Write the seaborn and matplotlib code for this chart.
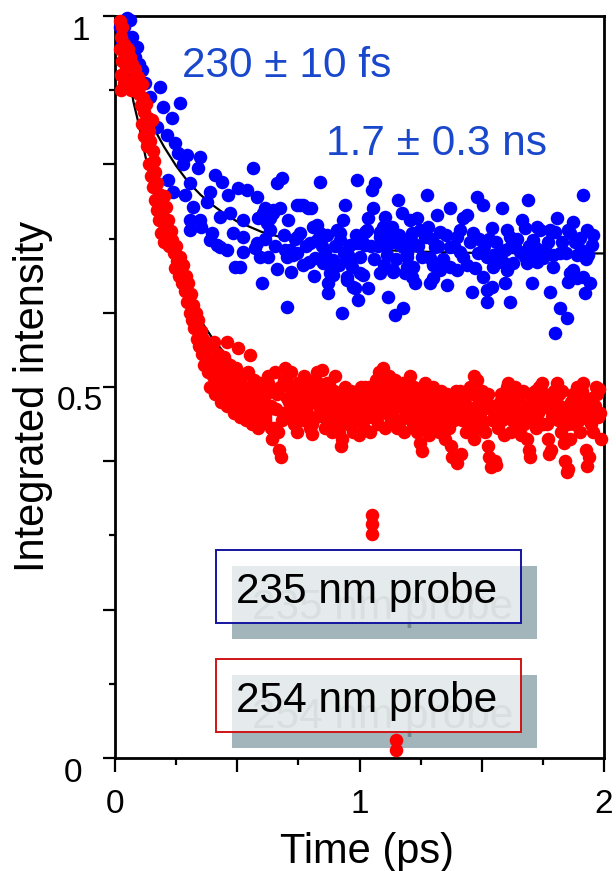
import matplotlib
matplotlib.use("Agg")
import matplotlib.pyplot as plt
import matplotlib.transforms as mtransforms
from matplotlib.patches import Rectangle
import seaborn as sns

# ---------------- data ----------------
blue_pts = [
    (0.022, 0.985), (0.030, 0.965), (0.037, 0.985), (0.049, 0.997), (0.061, 0.995), (0.070, 0.972),
    (0.080, 0.945), (0.090, 0.958), (0.100, 0.935), (0.110, 0.927), (0.123, 0.910), (0.143, 0.891),
    (0.184, 0.904), (0.196, 0.877), (0.172, 0.850), (0.233, 0.862), (0.266, 0.883), (0.213, 0.840),
    (0.245, 0.829), (0.258, 0.815), (0.294, 0.813), (0.348, 0.810), (0.340, 0.795), (0.278, 0.800),
    (0.217, 0.779), (0.307, 0.775), (0.409, 0.786), (0.438, 0.776), (0.564, 0.795), (0.237, 0.763),
    (0.286, 0.759), (0.319, 0.743), (0.376, 0.749), (0.389, 0.763), (0.462, 0.759), (0.503, 0.768),
    (0.540, 0.765), (0.581, 0.756), (0.307, 0.725), (0.348, 0.725), (0.352, 0.716), (0.429, 0.729),
    (0.470, 0.734), (0.524, 0.725), (0.605, 0.734), (0.307, 0.712), (0.389, 0.698), (0.397, 0.708),
    (0.417, 0.691), (0.430, 0.689), (0.458, 0.685), (0.483, 0.708), (0.524, 0.702), (0.524, 0.682),
    (0.490, 0.662), (0.510, 0.662), (0.573, 0.687), (0.581, 0.694), (0.600, 0.640), (0.622, 0.721),
    (0.646, 0.739), (0.663, 0.775), (0.683, 0.782), (0.626, 0.675), (0.593, 0.675), (0.663, 0.659),
    (0.703, 0.608), (0.695, 0.685), (0.716, 0.685), (0.728, 0.678), (0.744, 0.681), (0.769, 0.664),
    (0.744, 0.702), (0.757, 0.708), (0.810, 0.716), (0.838, 0.708), (0.892, 0.671), (0.879, 0.654),
    (0.871, 0.640), (0.871, 0.627), (0.920, 0.708), (0.949, 0.644), (0.973, 0.635), (0.928, 0.600),
    (0.940, 0.745), (0.932, 0.725), (0.757, 0.745), (0.790, 0.741), (0.675, 0.741), (0.646, 0.734),
    (0.708, 0.725), (0.585, 0.728), (0.613, 0.741), (0.634, 0.728), (0.634, 0.712), (0.744, 0.745),
    (0.769, 0.745), (0.800, 0.741), (0.826, 0.718), (0.838, 0.776), (0.867, 0.705), (0.908, 0.712),
    (0.798, 0.694), (0.826, 0.698), (0.851, 0.704), (0.920, 0.698), (0.961, 0.691), (0.990, 0.694),
    (1.022, 0.691), (1.014, 0.694), (1.112, 0.691), (1.137, 0.695), (1.166, 0.691), (1.178, 0.689),
    (1.219, 0.694), (0.703, 0.675), (0.818, 0.674), (0.851, 0.667), (0.888, 0.668), (0.953, 0.678),
    (0.949, 0.675), (0.961, 0.668), (1.002, 0.675), (1.112, 0.678), (1.194, 0.675), (0.969, 0.662),
    (1.014, 0.651), (1.002, 0.654), (1.084, 0.654), (1.137, 0.655), (1.137, 0.658), (1.186, 0.654),
    (1.194, 0.662), (1.219, 0.662), (0.892, 0.651), (0.949, 0.648), (0.982, 0.633), (1.035, 0.633),
    (0.994, 0.617), (1.117, 0.621), (1.145, 0.597), (1.178, 0.606), (0.990, 0.779), (1.063, 0.775),
    (1.050, 0.766), (1.157, 0.752), (1.055, 0.741), (1.174, 0.734), (1.035, 0.728), (1.104, 0.729),
    (1.133, 0.716), (1.096, 0.716), (1.125, 0.714), (1.235, 0.728), (1.030, 0.712), (1.022, 0.709),
    (1.084, 0.709), (1.084, 0.702), (1.207, 0.725), (1.215, 0.708), (1.247, 0.712), (1.268, 0.702),
    (1.276, 0.759), (1.480, 0.756), (1.505, 0.745), (1.689, 0.752), (1.914, 0.759), (1.317, 0.732),
    (1.370, 0.741), (1.423, 0.728), (1.440, 0.732), (1.583, 0.741), (1.665, 0.725), (1.677, 0.714),
    (1.808, 0.728), (1.873, 0.722), (1.329, 0.709), (1.464, 0.708), (1.542, 0.714), (1.603, 0.712),
    (1.616, 0.702), (1.726, 0.716), (1.738, 0.712), (1.779, 0.712), (1.800, 0.709), (1.853, 0.712),
    (1.861, 0.708), (1.930, 0.712), (1.399, 0.702), (1.710, 0.698), (1.902, 0.701), (1.951, 0.691),
    (1.194, 0.681), (1.309, 0.689), (1.370, 0.689), (1.411, 0.682), (1.423, 0.675), (1.485, 0.681),
    (1.521, 0.675), (1.546, 0.678), (1.575, 0.681), (1.595, 0.685), (1.636, 0.689), (1.656, 0.682),
    (1.677, 0.675), (1.710, 0.674), (1.738, 0.681), (1.759, 0.685), (1.791, 0.678), (1.820, 0.681),
    (1.890, 0.678), (1.935, 0.678), (1.288, 0.674), (1.300, 0.664), (1.329, 0.658), (1.370, 0.662),
    (1.399, 0.658), (1.440, 0.664), (1.472, 0.660), (1.546, 0.662), (1.566, 0.668), (1.603, 0.658),
    (1.628, 0.667), (1.685, 0.667), (1.726, 0.668), (1.750, 0.674), (1.861, 0.654), (1.873, 0.658),
    (1.914, 0.648), (1.215, 0.648), (1.227, 0.640), (1.288, 0.640), (1.300, 0.647), (1.358, 0.637),
    (1.460, 0.628), (1.505, 0.648), (1.521, 0.631), (1.542, 0.635), (1.595, 0.640), (1.706, 0.640),
    (1.779, 0.628), (1.853, 0.642), (1.890, 0.647), (1.943, 0.640), (1.521, 0.615), (1.616, 0.615),
    (1.922, 0.627), (1.820, 0.606), (1.849, 0.593), (1.800, 0.573),
    (0.615, 0.700), (0.655, 0.690), (0.690, 0.705), (0.720, 0.655), (0.735, 0.700), (0.780, 0.690),
    (0.795, 0.668), (0.815, 0.650), (0.845, 0.690), (0.860, 0.680), (0.900, 0.690), (0.915, 0.665),
    (0.935, 0.680), (0.985, 0.705), (1.005, 0.700), (1.045, 0.690), (1.060, 0.672), (1.075, 0.690),
    (1.100, 0.665), (1.120, 0.700), (1.150, 0.672), (1.160, 0.705), (1.200, 0.700), (1.240, 0.690),
    (1.255, 0.675), (1.280, 0.715), (1.295, 0.700), (1.320, 0.690), (1.340, 0.672), (1.355, 0.705),
    (1.385, 0.690), (1.410, 0.712), (1.450, 0.695), (1.490, 0.700), (1.510, 0.690), (1.530, 0.700),
    (1.560, 0.695), (1.585, 0.668), (1.620, 0.690), (1.645, 0.700), (1.695, 0.690), (1.720, 0.688),
    (1.770, 0.695), (1.790, 0.662), (1.830, 0.695), (1.845, 0.680), (1.880, 0.695), (1.905, 0.685),
    (1.925, 0.672), (1.955, 0.705),
]

red_early_pts = [
    (0.022, 0.993), (0.030, 0.985), (0.024, 0.972), (0.035, 0.962), (0.022, 0.955), (0.040, 0.950),
    (0.028, 0.940), (0.045, 0.930), (0.024, 0.920), (0.035, 0.910), (0.025, 0.900), (0.050, 0.905),
    (0.055, 0.955), (0.061, 0.945), (0.070, 0.935), (0.074, 0.915), (0.082, 0.928), (0.065, 0.900),
    (0.088, 0.905), (0.095, 0.918), (0.100, 0.895), (0.110, 0.908), (0.105, 0.880), (0.115, 0.890),
    (0.120, 0.870), (0.128, 0.882), (0.110, 0.855), (0.135, 0.862), (0.118, 0.838), (0.140, 0.845),
    (0.150, 0.860), (0.130, 0.825), (0.145, 0.832), (0.155, 0.818), (0.140, 0.800), (0.160, 0.805),
    (0.148, 0.785), (0.165, 0.790), (0.172, 0.775), (0.155, 0.770), (0.178, 0.760), (0.162, 0.752),
    (0.185, 0.748), (0.200, 0.758), (0.170, 0.738), (0.192, 0.735), (0.210, 0.742), (0.180, 0.725),
    (0.200, 0.720), (0.218, 0.725), (0.190, 0.708), (0.210, 0.705), (0.228, 0.710), (0.200, 0.695),
    (0.222, 0.690), (0.235, 0.698),
    (0.240, 0.680), (0.245, 0.660), (0.250, 0.690), (0.255, 0.670), (0.260, 0.650), (0.265, 0.675),
    (0.270, 0.655), (0.275, 0.640), (0.280, 0.665), (0.285, 0.630), (0.290, 0.650), (0.295, 0.615),
    (0.300, 0.640), (0.305, 0.600), (0.310, 0.625), (0.315, 0.590), (0.320, 0.610), (0.325, 0.580),
    (0.330, 0.600), (0.335, 0.565), (0.340, 0.590), (0.345, 0.555), (0.350, 0.575), (0.355, 0.545),
    (0.360, 0.565), (0.365, 0.530), (0.370, 0.560), (0.375, 0.540), (0.380, 0.520), (0.385, 0.555),
    (0.390, 0.500), (0.395, 0.535), (0.400, 0.515), (0.405, 0.560), (0.410, 0.490), (0.415, 0.525),
    (0.420, 0.545), (0.425, 0.505), (0.430, 0.530), (0.435, 0.480), (0.440, 0.515), (0.445, 0.540),
    (0.450, 0.495), (0.455, 0.520), (0.458, 0.560), (0.460, 0.475), (0.465, 0.505), (0.470, 0.530),
    (0.475, 0.485), (0.480, 0.510), (0.485, 0.465), (0.490, 0.495), (0.495, 0.525), (0.500, 0.480),
    (0.503, 0.552), (0.505, 0.505), (0.510, 0.460), (0.515, 0.490), (0.520, 0.515), (0.525, 0.470),
    (0.530, 0.500), (0.535, 0.455), (0.540, 0.485), (0.545, 0.520), (0.550, 0.465), (0.552, 0.543),
    (0.555, 0.495), (0.560, 0.450), (0.565, 0.480), (0.570, 0.510), (0.575, 0.460), (0.580, 0.490),
    (0.585, 0.445), (0.590, 0.475), (0.595, 0.505),
]

red_plateau_t = [
    0.600, 0.606, 0.612, 0.618, 0.624, 0.630, 0.636, 0.642, 0.648, 0.654,
    0.660, 0.666, 0.672, 0.678, 0.684, 0.690, 0.696, 0.702, 0.708, 0.714,
    0.720, 0.726, 0.732, 0.738, 0.744, 0.750, 0.756, 0.762, 0.768, 0.774,
    0.780, 0.786, 0.792, 0.798, 0.804, 0.810, 0.816, 0.822, 0.828, 0.834,
    0.840, 0.846, 0.852, 0.858, 0.864, 0.870, 0.876, 0.882, 0.888, 0.894,
    0.900, 0.906, 0.912, 0.918, 0.924, 0.930, 0.936, 0.942, 0.948, 0.954,
    0.960, 0.966, 0.972, 0.978, 0.984, 0.990, 0.996, 1.002, 1.008, 1.014,
    1.020, 1.026, 1.032, 1.038, 1.044, 1.050, 1.056, 1.062, 1.068, 1.074,
    1.080, 1.086, 1.092, 1.098, 1.104, 1.110, 1.116, 1.122, 1.128, 1.134,
    1.140, 1.146, 1.152, 1.158, 1.164, 1.170, 1.176, 1.182, 1.188, 1.194,
    1.200, 1.206, 1.212, 1.218, 1.224, 1.230, 1.236, 1.242, 1.248, 1.254,
    1.260, 1.266, 1.272, 1.278, 1.284, 1.290, 1.296, 1.302, 1.308, 1.314,
    1.320, 1.326, 1.332, 1.338, 1.344, 1.350, 1.356, 1.362, 1.368, 1.374,
    1.380, 1.386, 1.392, 1.398, 1.404, 1.410, 1.416, 1.422, 1.428, 1.434,
    1.440, 1.446, 1.452, 1.458, 1.464, 1.470, 1.476, 1.482, 1.488, 1.494,
    1.500, 1.506, 1.512, 1.518, 1.524, 1.530, 1.536, 1.542, 1.548, 1.554,
    1.560, 1.566, 1.572, 1.578, 1.584, 1.590, 1.596, 1.602, 1.608, 1.614,
    1.620, 1.626, 1.632, 1.638, 1.644, 1.650, 1.656, 1.662, 1.668, 1.674,
    1.680, 1.686, 1.692, 1.698, 1.704, 1.710, 1.716, 1.722, 1.728, 1.734,
    1.740, 1.746, 1.752, 1.758, 1.764, 1.770, 1.776, 1.782, 1.788, 1.794,
    1.800, 1.806, 1.812, 1.818, 1.824, 1.830, 1.836, 1.842, 1.848, 1.854,
    1.860, 1.866, 1.872, 1.878, 1.884, 1.890, 1.896, 1.902, 1.908, 1.914,
    1.920, 1.926, 1.932, 1.938, 1.944, 1.950, 1.956, 1.962, 1.968, 1.974,
    1.980, 1.986,
]
red_plateau_y = [
    0.480, 0.505, 0.455, 0.490, 0.515, 0.470, 0.445, 0.430, 0.495, 0.520,
    0.470, 0.440, 0.415, 0.405, 0.455, 0.510, 0.525, 0.485, 0.460, 0.500,
    0.520, 0.475, 0.450, 0.495, 0.440, 0.505, 0.470, 0.485, 0.455, 0.515,
    0.490, 0.465, 0.500, 0.445, 0.437, 0.480, 0.510, 0.460, 0.520, 0.475,
    0.500, 0.523, 0.470, 0.445, 0.490, 0.455, 0.505, 0.480, 0.440, 0.495,
    0.515, 0.470, 0.485, 0.440, 0.420, 0.430, 0.460, 0.500, 0.480, 0.450,
    0.465, 0.495, 0.440, 0.475, 0.455, 0.490, 0.435, 0.480, 0.500, 0.460,
    0.445, 0.485, 0.470, 0.500, 0.440, 0.460, 0.495, 0.475, 0.510, 0.450,
    0.520, 0.490, 0.465, 0.525, 0.445, 0.505, 0.480, 0.515, 0.455, 0.500,
    0.470, 0.510, 0.445, 0.485, 0.495, 0.455, 0.505, 0.440, 0.475, 0.490,
    0.460, 0.515, 0.480, 0.450, 0.500, 0.470, 0.440, 0.490, 0.425, 0.414,
    0.445, 0.505, 0.470, 0.490, 0.435, 0.480, 0.460, 0.500, 0.450, 0.485,
    0.470, 0.440, 0.495, 0.455, 0.480, 0.430, 0.490, 0.465, 0.445, 0.420,
    0.405, 0.455, 0.480, 0.398, 0.470, 0.495, 0.410, 0.460, 0.485, 0.440,
    0.475, 0.450, 0.500, 0.465, 0.490, 0.515, 0.445, 0.510, 0.480, 0.460,
    0.495, 0.470, 0.440, 0.485, 0.420, 0.405, 0.392, 0.455, 0.475, 0.400,
    0.395, 0.445, 0.470, 0.490, 0.455, 0.435, 0.480, 0.500, 0.505, 0.460,
    0.440, 0.485, 0.470, 0.500, 0.450, 0.490, 0.465, 0.435, 0.495, 0.475,
    0.455, 0.430, 0.415, 0.405, 0.460, 0.485, 0.495, 0.445, 0.475, 0.500,
    0.470, 0.505, 0.450, 0.490, 0.480, 0.430, 0.410, 0.415, 0.460, 0.495,
    0.485, 0.505, 0.455, 0.475, 0.440, 0.495, 0.425, 0.400, 0.385, 0.390,
    0.430, 0.470, 0.490, 0.450, 0.480, 0.500, 0.460, 0.440, 0.495, 0.505,
    0.470, 0.415, 0.394, 0.405, 0.455, 0.485, 0.440, 0.475, 0.500, 0.460,
    0.497, 0.430,
]

# interleaved plateau samples (mid-band)
red_mid_t = [
    0.603, 0.615, 0.627, 0.639, 0.651, 0.663, 0.675, 0.687, 0.699, 0.711,
    0.723, 0.735, 0.747, 0.759, 0.771, 0.783, 0.795, 0.807, 0.819, 0.831,
    0.843, 0.855, 0.867, 0.879, 0.891, 0.903, 0.915, 0.927, 0.939, 0.951,
    0.963, 0.975, 0.987, 0.999, 1.011, 1.023, 1.035, 1.047, 1.059, 1.071,
    1.083, 1.095, 1.107, 1.119, 1.131, 1.143, 1.155, 1.167, 1.179, 1.191,
    1.203, 1.215, 1.227, 1.239, 1.251, 1.263, 1.275, 1.287, 1.299, 1.311,
    1.323, 1.335, 1.347, 1.359, 1.371, 1.383, 1.395, 1.407, 1.419, 1.431,
    1.443, 1.455, 1.467, 1.479, 1.491, 1.503, 1.515, 1.527, 1.539, 1.551,
    1.563, 1.575, 1.587, 1.599, 1.611, 1.623, 1.635, 1.647, 1.659, 1.671,
    1.683, 1.695, 1.707, 1.719, 1.731, 1.743, 1.755, 1.767, 1.779, 1.791,
    1.803, 1.815, 1.827, 1.839, 1.851, 1.863, 1.875, 1.887, 1.899, 1.911,
    1.923, 1.935, 1.947, 1.959, 1.971, 1.983,
]
red_mid_y = [
    0.495, 0.460, 0.505, 0.475, 0.445, 0.490, 0.500, 0.465, 0.510, 0.480,
    0.465, 0.500, 0.485, 0.455, 0.505, 0.470, 0.495, 0.450, 0.490, 0.505,
    0.480, 0.460, 0.505, 0.470, 0.495, 0.455, 0.450, 0.485, 0.470, 0.490,
    0.475, 0.455, 0.490, 0.465, 0.480, 0.500, 0.460, 0.495, 0.470, 0.485,
    0.505, 0.470, 0.490, 0.510, 0.460, 0.495, 0.475, 0.480, 0.500, 0.465,
    0.490, 0.470, 0.460, 0.485, 0.455, 0.495, 0.475, 0.450, 0.480, 0.465,
    0.460, 0.480, 0.445, 0.470, 0.485, 0.465, 0.495, 0.475, 0.455, 0.470,
    0.490, 0.460, 0.430, 0.475, 0.465, 0.450, 0.480, 0.490, 0.470, 0.455,
    0.465, 0.480, 0.460, 0.475, 0.490, 0.455, 0.470, 0.485, 0.465, 0.450,
    0.470, 0.490, 0.455, 0.475, 0.465, 0.485, 0.480, 0.450, 0.470, 0.460,
    0.475, 0.490, 0.460, 0.470, 0.450, 0.480, 0.465, 0.485, 0.455, 0.470,
    0.460, 0.480, 0.450, 0.470, 0.490, 0.465,
]

red_outlier_pts = [(1.051, 0.327), (1.051, 0.315), (1.051, 0.302), (1.149, 0.024), (1.149, 0.011)]

# fitted curves as they appear on the reference
fit_t = [0.0, 0.025, 0.05, 0.075, 0.1, 0.125, 0.15, 0.175, 0.2, 0.25, 0.3, 0.35, 0.4,
         0.45, 0.5, 0.55, 0.6, 0.7, 0.8, 0.9, 1.0, 1.2, 1.4, 1.6, 1.8, 2.0]
blue_fit_y = [1.0, 0.970, 0.942, 0.917, 0.895, 0.874, 0.856, 0.839, 0.824, 0.798, 0.776,
              0.759, 0.745, 0.733, 0.723, 0.716, 0.709, 0.700, 0.693, 0.689, 0.686, 0.683,
              0.681, 0.6805, 0.680, 0.680]
red_fit_y = [1.0, 0.975, 0.935, 0.885, 0.850, 0.810, 0.775, 0.740, 0.710, 0.660, 0.620,
             0.590, 0.565, 0.545, 0.528, 0.515, 0.503, 0.487, 0.476, 0.469, 0.464, 0.459,
             0.457, 0.456, 0.455, 0.455]

x_major = [0, 0.5, 1, 1.5, 2]
x_major_labels = ["0", "", "1", "", "2"]
x_minor = [0.25, 0.75, 1.25, 1.75]
y_major = [0, 0.2, 0.4, 0.5, 0.6, 0.8, 1.0]
y_major_labels = ["0", "", "", "0.5", "", "", "1"]
y_minor = [0.1, 0.3, 0.7, 0.9]

fit_labels = ["230 \u00b1 10 fs", "1.7 \u00b1 0.3 ns"]
probe_labels = ["235 nm probe", "254 nm probe"]

# ---------------- style ----------------
sns.set_theme(style="ticks")
plt.rcParams["font.family"] = ["Liberation Sans", "DejaVu Sans"]

W, H = 616, 871
fig = plt.figure(figsize=(W / 100, H / 100), dpi=100)
L, R, B, T = 115, 604, 758, 16
ax = fig.add_axes([L / W, 1 - B / H, (R - L) / W, (B - T) / H])
ax.set_facecolor("white")

blue_t = [p[0] for p in blue_pts]
blue_y = [p[1] for p in blue_pts]
red_t = ([p[0] for p in red_early_pts] + red_plateau_t + red_mid_t
         + [p[0] for p in red_outlier_pts])
red_y = ([p[1] for p in red_early_pts] + red_plateau_y + red_mid_y
         + [p[1] for p in red_outlier_pts])

sns.lineplot(x=fit_t, y=blue_fit_y, ax=ax, color="black", lw=1.6, sort=False, zorder=2)
sns.lineplot(x=fit_t, y=red_fit_y, ax=ax, color="black", lw=1.6, sort=False, zorder=2)
sns.scatterplot(x=blue_t, y=blue_y, ax=ax, color="#0000ff", s=95, linewidth=0,
                zorder=5, clip_on=False)
sns.scatterplot(x=red_t, y=red_y, ax=ax, color="#ff0000", s=95, linewidth=0,
                zorder=6, clip_on=False)

ax.set_xlim(0, 2)
ax.set_ylim(0, 1)

for s in ax.spines.values():
    s.set_visible(True)
    s.set_color("black")
    s.set_linewidth(2.0)

ax.set_xticks(x_major)
ax.set_xticklabels(x_major_labels)
ax.set_xticks(x_minor, minor=True)
ax.set_yticks(y_major)
ax.set_yticklabels(y_major_labels)
ax.set_yticks(y_minor, minor=True)
ax.tick_params(axis="x", which="major", direction="out", length=10, width=1.6,
               color="black", labelsize=24, pad=12, labelcolor="black")
ax.tick_params(axis="x", which="minor", direction="out", length=5, width=1.6, color="black")
ax.tick_params(axis="y", which="major", direction="out", length=8.5, width=1.6,
               color="black", labelsize=24, pad=0, labelcolor="black")
ax.tick_params(axis="y", which="minor", direction="out", length=4, width=1.6, color="black")
ax.tick_params(top=False, right=False, which="both")

# individual label offsets (pixels) as on the reference
offs = {"0": (-21, -12), "0.5": (0, -11), "1": (-13, -12)}
for tick, lab in zip(ax.yaxis.get_major_ticks(), y_major_labels):
    if lab in offs:
        dx, dy = offs[lab]
        tr = mtransforms.ScaledTranslation(dx / 100, dy / 100, fig.dpi_scale_trans)
        tick.label1.set_transform(tick.label1.get_transform() + tr)

ax.set_xlabel("Time (ps)", fontsize=30, color="black")
ax.set_ylabel("Integrated intensity", fontsize=30, color="black")
ax.xaxis.set_label_coords(0.515, -0.100)
ax.yaxis.set_label_coords(-0.127, 0.487)

# fit annotations
ax.text(0.273, 0.918, fit_labels[0], fontsize=30.5, color="#1a48cc", va="baseline", ha="left",
        zorder=7)
ax.text(0.861, 0.812, fit_labels[1], fontsize=30.5, color="#1a48cc", va="baseline", ha="left",
        zorder=7)

# legend-like boxes with drop shadow
def px2ax(px, py):
    return (px - L) / (R - L), (B - py) / (B - T)

box_w = (521 - 216) / (R - L)
box_h = (623 - 550) / (B - T)
sdx = 16 / (R - L)
sdy = -16 / (B - T)
for (frame_top, text_base, edge, label) in [(550, 603, "#1414a0", probe_labels[0]),
                                            (659, 712, "#d01414", probe_labels[1])]:
    x0, y1 = px2ax(216, frame_top)
    y0 = y1 - box_h
    ax.add_patch(Rectangle((x0 + sdx, y0 + sdy), box_w, box_h, transform=ax.transAxes,
                           facecolor="#a1b5ba", edgecolor="none", zorder=3))
    tx, ty = px2ax(236, text_base)
    ax.text(tx + sdx, ty + sdy, label, transform=ax.transAxes, fontsize=30.5, color="#75898e",
            va="baseline", ha="left", zorder=3.1)
    ax.add_patch(Rectangle((x0, y0), box_w, box_h, transform=ax.transAxes,
                           facecolor=(1, 1, 1, 0.73), edgecolor=edge, lw=1.4, zorder=3.2))
    ax.text(tx, ty, label, transform=ax.transAxes, fontsize=30.5, color="black",
            va="baseline", ha="left", zorder=3.3)

fig.savefig("out.png", dpi=100, facecolor="white")
